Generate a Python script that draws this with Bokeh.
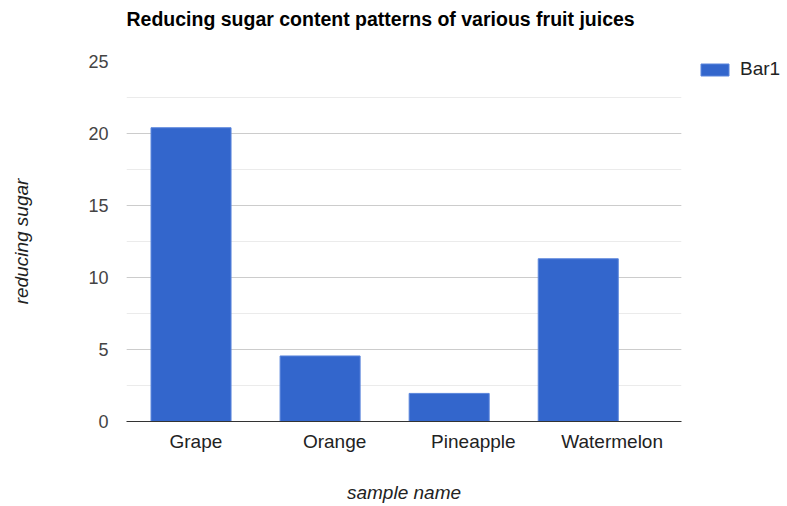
from bokeh.plotting import figure
from bokeh.models import (ColumnDataSource, SingleIntervalTicker, Range1d, FixedTicker,
                          LinearAxis, Legend, LegendItem)
from bokeh.embed import file_html
from bokeh.resources import INLINE

categories = ["Grape", "Orange", "Pineapple", "Watermelon"]
values = [20.4, 4.55, 1.95, 11.3]
series_name = "Bar1"
title_text = "Reducing sugar content patterns of various fruit juices"
x_title = "sample name"
y_title = "reducing sugar"

FONT = "Liberation Sans"

xs = [i + 0.5 for i in range(len(categories))]
src = ColumnDataSource(dict(x=xs, top=values, cat=categories))

p = figure(width=787, height=506, frame_width=555, frame_height=360,
           output_backend="svg", toolbar_location=None,
           x_range=Range1d(0, 4.3), y_range=Range1d(0, 25),
           x_axis_location=None,
           min_border_left=126, min_border_right=106, min_border_top=61, min_border_bottom=85)
# label axis spans the full frame width, one slot per category
p.extra_x_ranges = {"lab": Range1d(0, len(categories))}
p.background_fill_color = "white"
p.border_fill_color = "white"
p.outline_line_color = None

r = p.vbar(x="x", top="top", width=0.62, source=src, fill_color="#3366CC",
           line_color="#5a85dc", line_width=1)

# title (an empty second line lifts it towards the top edge)
p.title.text = title_text + "\n "
p.title.text_font = FONT
p.title.text_font_size = "19.5px"
p.title.text_font_style = "bold"
p.title.text_color = "#000000"
p.title.text_line_height = 1.35
p.title.align = "left"
p.title.vertical_align = "bottom"
p.title.standoff = 4
p.title.offset = 0

# y axis
p.yaxis.ticker = SingleIntervalTicker(interval=5, num_minor_ticks=2)
p.yaxis.axis_line_color = None
p.yaxis.major_tick_line_color = None
p.yaxis.minor_tick_line_color = None
p.yaxis.major_label_standoff = 12
p.yaxis.major_label_text_font = FONT
p.yaxis.major_label_text_font_size = "18px"
p.yaxis.major_label_text_color = "#444444"
p.yaxis.axis_label = y_title
p.yaxis.axis_label_text_font = FONT
p.yaxis.axis_label_text_font_size = "19px"
p.yaxis.axis_label_text_font_style = "italic"
p.yaxis.axis_label_text_color = "#222222"
p.yaxis.axis_label_standoff = 53

p.ygrid.grid_line_color = "#cccccc"
p.ygrid.minor_grid_line_color = "#ebebeb"
p.xgrid.grid_line_color = None
p.xgrid.visible = False

# x axis
xaxis = LinearAxis(x_range_name="lab", ticker=FixedTicker(ticks=xs, minor_ticks=[]))
xaxis.major_label_overrides = {x: c for x, c in zip(xs, categories)}
xaxis.axis_line_color = "#333333"
xaxis.axis_line_width = 1
xaxis.major_tick_line_color = None
xaxis.minor_tick_line_color = None
xaxis.major_label_standoff = 3
xaxis.major_label_text_font = FONT
xaxis.major_label_text_font_size = "19px"
xaxis.major_label_text_color = "#222222"
xaxis.axis_label = x_title
xaxis.axis_label_text_font = FONT
xaxis.axis_label_text_font_size = "19px"
xaxis.axis_label_text_font_style = "italic"
xaxis.axis_label_text_color = "#222222"
xaxis.axis_label_standoff = 27
p.add_layout(xaxis, "below")

legend = Legend(items=[LegendItem(label=series_name, renderers=[r])],
                location=(16, 341), margin=0, padding=0,
                glyph_width=35, glyph_height=15, label_standoff=8,
                label_text_font=FONT, label_text_font_size="19px",
                label_text_color="#222222", border_line_color=None,
                background_fill_alpha=0, label_height=15)
p.add_layout(legend, "right")

open("out.html", "w").write(file_html(p, INLINE))
